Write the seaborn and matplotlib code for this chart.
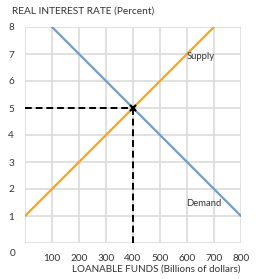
import matplotlib
matplotlib.use("Agg")
import matplotlib.pyplot as plt
import seaborn as sns
import pandas as pd

supply_x = [0, 700]
supply_y = [1, 8]
demand_x = [100, 800]
demand_y = [8, 1]
eq_x, eq_y = 400, 5
x_ticks = [100, 200, 300, 400, 500, 600, 700, 800]
y_ticks = [1, 2, 3, 4, 5, 6, 7, 8]

sns.set_theme(style="white")
plt.rcParams['font.family'] = ['Lato', 'DejaVu Sans']

fig = plt.figure(figsize=(2.57, 2.79), dpi=100)
ax = fig.add_axes([25/257, 1-243/279, 216/257, 216/279])

grid_c = "#dcdcdc"
for xv in [0] + x_ticks:
    ax.axvline(xv, color=grid_c, lw=1.2, zorder=0)
for yv in [0] + y_ticks:
    ax.axhline(yv, color=grid_c, lw=1.2, zorder=0)

sup = pd.DataFrame({"x": supply_x, "y": supply_y})
dem = pd.DataFrame({"x": demand_x, "y": demand_y})
sns.lineplot(data=sup, x="x", y="y", ax=ax, color="#f4a42c", lw=1.6, zorder=3)
sns.lineplot(data=dem, x="x", y="y", ax=ax, color="#6f9ec8", lw=1.6, zorder=3)

ax.plot([0, eq_x], [eq_y, eq_y], color="black", lw=1.4, ls=(0, (3.5, 2)), zorder=4)
ax.plot([eq_x, eq_x], [eq_y, 0], color="black", lw=1.4, ls=(0, (3.5, 2)), zorder=4)
ax.plot([eq_x], [eq_y], marker="x", color="black", ms=5, mew=1.6, zorder=5)

tc = "#333333"
ax.text(598, 6.75, "Supply", fontsize=6.8, color=tc, ha="left", va="bottom")
ax.text(598, 1.3, "Demand", fontsize=6.8, color=tc, ha="left", va="bottom")

ax.set_xlim(0, 800)
ax.set_ylim(0, 8)
ax.set_xticks(x_ticks)
ax.set_xticklabels([str(v) for v in x_ticks], fontsize=7.2, color=tc)
ax.set_yticks(y_ticks)
ax.set_yticklabels([str(v) for v in y_ticks], fontsize=7.2, color=tc)
ax.tick_params(length=0, pad=8)
for s in ax.spines.values():
    s.set_visible(False)
ax.set_xlabel("")
ax.set_ylabel("")

fig.text(13/257, 1-254/279, "0", fontsize=7.2, color=tc, ha="center", va="center")
fig.text(12/257, 1-11/279, "REAL INTEREST RATE (Percent)", fontsize=7.3, color=tc, ha="left", va="center")
fig.text(241/257, 1-269/279, "LOANABLE FUNDS (Billions of dollars)", fontsize=7.1, color=tc, ha="right", va="center")

fig.savefig("out.png", dpi=100)
